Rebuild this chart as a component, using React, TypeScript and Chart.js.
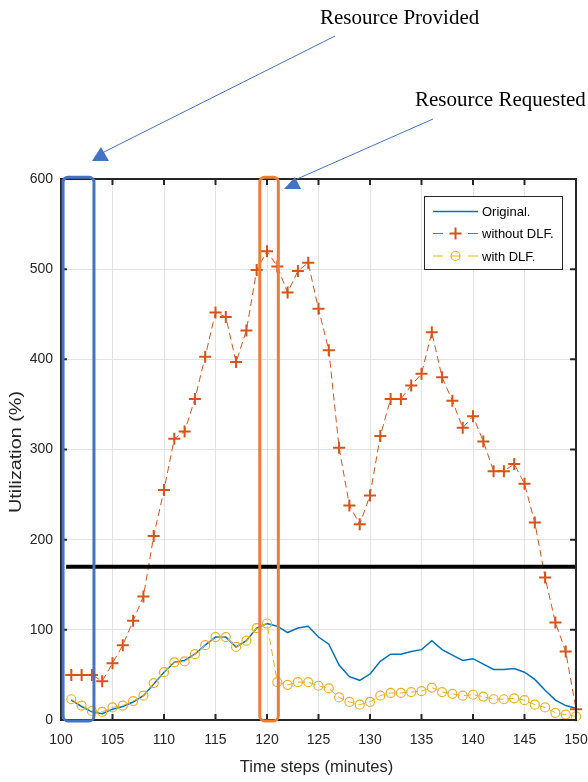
import React, { useEffect, useRef } from "react";
import { Chart, registerables } from "chart.js";

Chart.register(...registerables);

const timeSteps = [
  101, 102, 103, 104, 105, 106, 107, 108, 109, 110,
  111, 112, 113, 114, 115, 116, 117, 118, 119, 120,
  121, 122, 123, 124, 125, 126, 127, 128, 129, 130,
  131, 132, 133, 134, 135, 136, 137, 138, 139, 140,
  141, 142, 143, 144, 145, 146, 147, 148, 149, 150,
];

const original = [
  22, 15, 9, 7, 12, 15, 20, 27, 40, 53,
  64, 66, 73, 83, 92, 92, 81, 88, 102, 107,
  104, 97, 102, 104, 92, 84, 61, 48, 44, 51,
  65, 73, 73, 76, 78, 88, 78, 72, 66, 68,
  62, 56, 56, 57, 53, 45, 33, 22, 16, 13,
];

const withoutDLF = [
  50, 50, 50, 43, 63, 83, 110, 137, 204, 255,
  312, 320, 356, 403, 452, 447, 397, 432, 499, 520,
  503, 474, 498, 507, 456, 410, 302, 238, 217, 249,
  315, 356, 356, 371, 384, 430, 380, 354, 324, 337,
  309, 276, 276, 284, 262, 219, 158, 108, 76, 12,
];

const withDLF = [
  23, 16, 10, 9, 14, 16, 21, 27, 41, 53,
  64, 65, 73, 83, 92, 92, 81, 88, 102, 107,
  42, 39, 42, 42, 38, 35, 25, 20, 17, 20,
  27, 30, 30, 31, 32, 36, 31, 29, 27, 28,
  26, 23, 23, 24, 22, 17, 14, 8, 6, 4,
];

const xTicksStep = 5;
const yTicksStep = 100;
const thresholdValue = 170;
const providedBox = [100.2, 103.2];
const requestedBox = [119.3, 121.1];
const legendLabels = ["Original.", "without DLF.", "with DLF."];

const BLUE = "#0072BD";
const RED = "#D95319";
const YELLOW = "#EDB120";
const SANS = "'Liberation Sans', Arial, sans-serif";
const SERIF = "'Liberation Serif', 'Times New Roman', serif";

const toXY = (ys: number[]) => ys.map((y, i) => ({ x: timeSteps[i], y }));

const decorPlugin = {
  id: "decor",
  afterDatasetsDraw(chart: any) {
    const { ctx, chartArea: a, scales } = chart;
    const xs = scales.x;
    const ys = scales.y;
    ctx.save();
    // threshold line
    ctx.strokeStyle = "#000";
    ctx.lineWidth = 4;
    ctx.beginPath();
    const ty = ys.getPixelForValue(thresholdValue);
    ctx.moveTo(xs.getPixelForValue(100.5), ty);
    ctx.lineTo(a.right, ty);
    ctx.stroke();

    // frame
    ctx.strokeStyle = "#262626";
    ctx.lineWidth = 2;
    ctx.strokeRect(a.left, a.top, a.right - a.left, a.bottom - a.top);
    ctx.lineWidth = 2;
    ctx.beginPath();
    for (let v = 100; v <= 150; v += xTicksStep) {
      const px = xs.getPixelForValue(v);
      ctx.moveTo(px, a.bottom);
      ctx.lineTo(px, a.bottom - 6);
      ctx.moveTo(px, a.top);
      ctx.lineTo(px, a.top + 6);
    }
    for (let v = 0; v <= 600; v += yTicksStep) {
      const py = ys.getPixelForValue(v);
      ctx.moveTo(a.left, py);
      ctx.lineTo(a.left + 6, py);
      ctx.moveTo(a.right, py);
      ctx.lineTo(a.right - 6, py);
    }
    ctx.stroke();

    // highlight boxes
    const drawBox = (range: number[], color: string) => {
      const x0 = xs.getPixelForValue(range[0]);
      const x1 = xs.getPixelForValue(range[1]);
      const y0 = ys.getPixelForValue(602);
      const y1 = ys.getPixelForValue(-1);
      ctx.strokeStyle = color;
      ctx.lineWidth = 3;
      ctx.beginPath();
      (ctx as any).roundRect(x0, y0, x1 - x0, y1 - y0, 5);
      ctx.stroke();
    };
    drawBox(providedBox, "#4472C4");
    drawBox(requestedBox, "#ED7D31");

    // legend
    const lx = 424, ly = 196, lw = 138, lh = 73;
    ctx.fillStyle = "#fff";
    ctx.fillRect(lx, ly, lw, lh);
    ctx.strokeStyle = "#262626";
    ctx.lineWidth = 1;
    ctx.strokeRect(lx + 0.5, ly + 0.5, lw, lh);
    const rows = [211.5, 233.5, 256];
    const s0 = 433, s1 = 478, sm = 455.5;
    ctx.font = `13px ${SANS}`;
    ctx.textBaseline = "middle";
    ctx.textAlign = "left";
    // Original
    ctx.strokeStyle = BLUE;
    ctx.lineWidth = 1.5;
    ctx.beginPath();
    ctx.moveTo(s0, rows[0]);
    ctx.lineTo(s1, rows[0]);
    ctx.stroke();
    // without DLF
    ctx.strokeStyle = RED;
    ctx.lineWidth = 1.2;
    ctx.beginPath();
    ctx.moveTo(s0, rows[1]);
    ctx.lineTo(s0 + 10, rows[1]);
    ctx.moveTo(s1 - 10, rows[1]);
    ctx.lineTo(s1, rows[1]);
    ctx.stroke();
    ctx.lineWidth = 2;
    ctx.beginPath();
    ctx.moveTo(sm - 6, rows[1]);
    ctx.lineTo(sm + 6, rows[1]);
    ctx.moveTo(sm, rows[1] - 6);
    ctx.lineTo(sm, rows[1] + 6);
    ctx.stroke();
    // with DLF
    ctx.strokeStyle = YELLOW;
    ctx.lineWidth = 1.2;
    ctx.beginPath();
    ctx.moveTo(s0, rows[2]);
    ctx.lineTo(s0 + 10, rows[2]);
    ctx.moveTo(s1 - 10, rows[2]);
    ctx.lineTo(s1, rows[2]);
    ctx.moveTo(sm - 4.5, rows[2]);
    ctx.lineTo(sm + 4.5, rows[2]);
    ctx.stroke();
    ctx.beginPath();
    ctx.arc(sm, rows[2], 4.5, 0, Math.PI * 2);
    ctx.stroke();
    ctx.fillStyle = "#000";
    legendLabels.forEach((t, i) => ctx.fillText(t, 482, rows[i] + 1));
    ctx.restore();
  },
  afterDraw(chart: any) {
    const { ctx } = chart;
    ctx.save();
    // axis titles
    ctx.fillStyle = "#262626";
    ctx.font = `16.5px ${SANS}`;
    ctx.textAlign = "center";
    ctx.textBaseline = "middle";
    ctx.fillText("Time steps (minutes)", 316.5, 767);
    ctx.save();
    ctx.translate(16, 452);
    ctx.rotate(-Math.PI / 2);
    ctx.scale(1.2, 1);
    ctx.fillText("Utilization (%)", 0, 0);
    ctx.restore();

    // arrows
    ctx.strokeStyle = "#4472C4";
    ctx.fillStyle = "#4472C4";
    ctx.lineWidth = 1;
    ctx.beginPath();
    ctx.moveTo(335, 36);
    ctx.lineTo(104, 152);
    ctx.moveTo(433, 119);
    ctx.lineTo(297, 179);
    ctx.stroke();
    ctx.beginPath();
    ctx.moveTo(101, 147);
    ctx.lineTo(109, 161);
    ctx.lineTo(92, 161);
    ctx.closePath();
    ctx.fill();
    ctx.beginPath();
    ctx.moveTo(295, 177);
    ctx.lineTo(301, 189);
    ctx.lineTo(284, 189);
    ctx.closePath();
    ctx.fill();

    // annotation texts
    ctx.fillStyle = "#000";
    ctx.font = `21px ${SERIF}`;
    ctx.textAlign = "left";
    ctx.textBaseline = "alphabetic";
    ctx.fillText("Resource Provided", 320, 24);
    ctx.fillText("Resource Requested", 415, 106);
    ctx.restore();
  },
};

export default function App() {
  const ref = useRef<HTMLCanvasElement>(null);
  useEffect(() => {
    Chart.defaults.font.family = SANS;
    const chart = new Chart(ref.current as HTMLCanvasElement, {
      type: "line",
      data: {
        datasets: [
          {
            label: legendLabels[0],
            data: toXY(original),
            borderColor: BLUE,
            borderWidth: 1.5,
            pointRadius: 0,
            tension: 0,
            order: 3,
          },
          {
            label: legendLabels[1],
            data: toXY(withoutDLF),
            borderColor: RED,
            backgroundColor: RED,
            borderWidth: 1,
            borderDash: [7, 4],
            pointStyle: "cross",
            pointRadius: 6,
            pointBorderWidth: 2,
            pointBorderColor: RED,
            tension: 0,
            order: 1,
            clip: 10,
          },
          {
            label: legendLabels[2],
            data: toXY(withDLF),
            borderColor: YELLOW,
            backgroundColor: "transparent",
            borderWidth: 1,
            borderDash: [7, 4],
            pointStyle: "circle",
            pointRadius: 4.5,
            pointBorderWidth: 1.2,
            pointBorderColor: YELLOW,
            pointBackgroundColor: "rgba(0,0,0,0)",
            tension: 0,
            order: 2,
            clip: 10,
          },
        ] as any,
      },
      options: {
        responsive: false,
        animation: false,
        layout: { padding: { top: 179, right: 12, left: 0, bottom: 0 } },
        plugins: { legend: { display: false }, tooltip: { enabled: false } },
        scales: {
          x: {
            type: "linear",
            min: 100,
            max: 150,
            ticks: {
              stepSize: xTicksStep,
              padding: 12,
              color: "#262626",
              font: { size: 14 },
              maxRotation: 0,
              autoSkip: false,
            },
            grid: { color: "#e3e3e3", drawTicks: false, lineWidth: 1 },
            border: { display: false },
            afterFit: (s: any) => {
              s.height = 62;
              s.paddingLeft = 0;
              s.paddingRight = 0;
            },
          },
          y: {
            type: "linear",
            min: 0,
            max: 600,
            ticks: {
              stepSize: yTicksStep,
              padding: 8,
              color: "#262626",
              font: { size: 14 },
            },
            grid: { color: "#e3e3e3", drawTicks: false, lineWidth: 1 },
            border: { display: false },
            afterFit: (s: any) => {
              s.width = 61;
              s.paddingTop = 0;
              s.paddingBottom = 0;
            },
          },
        },
      } as any,
      plugins: [decorPlugin],
    });
    return () => chart.destroy();
  }, []);
  return (
    <div style={{ position: "absolute", left: 0, top: 0, width: 588, height: 782, background: "#fff" }}>
      <canvas ref={ref} width={588} height={782} style={{ display: "block", width: 588, height: 782 }} />
    </div>
  );
}
